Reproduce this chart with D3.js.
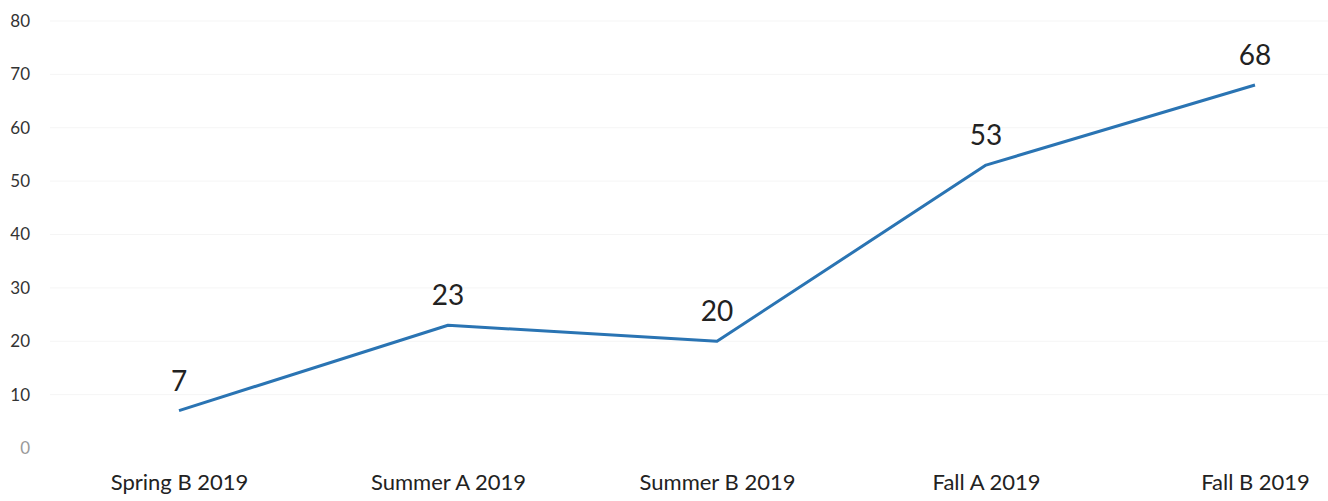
<!DOCTYPE html>
<html><head><meta charset="utf-8">
<script src="https://cdn.jsdelivr.net/npm/d3@7"></script>
<style>
html,body{margin:0;padding:0;background:#fff;}
svg{display:block;}
</style></head>
<body>
<script>
const categories = ["Spring B 2019","Summer A 2019","Summer B 2019","Fall A 2019","Fall B 2019"];
const values = [7, 23, 20, 53, 68];
const yTicks = [0,10,20,30,40,50,60,70,80];

const W = 1328, H = 501;
const svg = d3.select("body").append("svg").attr("width", W).attr("height", H);
const font = "Lato, 'Open Sans', sans-serif";

const x = d3.scalePoint().domain(categories).range([179, 1255]);
const y = d3.scaleLinear().domain([0, 80]).range([448, 21]);

// faint gridlines
svg.append("g").selectAll("line").data(yTicks.slice(1)).join("line")
  .attr("x1", 50).attr("x2", W)
  .attr("y1", d => y(d)).attr("y2", d => y(d))
  .attr("stroke", "#f5f5f5").attr("stroke-width", 1);

// y axis labels
const yAxis = d3.axisLeft(y).tickValues(yTicks).tickSize(0).tickPadding(0);
const gy = svg.append("g").attr("transform", "translate(30,0)").call(yAxis);
gy.select(".domain").remove();
gy.selectAll("text").attr("font-family", font).attr("font-size", 17)
  .attr("fill", d => d === 0 ? "#9a9a9a" : "#333");

// x axis labels
const xAxis = d3.axisBottom(x).tickSize(0).tickPadding(0);
const gx = svg.append("g").attr("transform", "translate(0,474)").call(xAxis);
gx.select(".domain").remove();
gx.selectAll("text").attr("font-family", font).attr("font-size", 22).attr("fill", "#222");

// line
const line = d3.line().x((d, i) => x(categories[i])).y(d => y(d));
svg.append("path").datum(values).attr("d", line)
  .attr("fill", "none").attr("stroke", "#2a74b3").attr("stroke-width", 3)
  .attr("stroke-linejoin", "round");

// data labels
svg.append("g").selectAll("text").data(values).join("text")
  .attr("x", (d, i) => x(categories[i]))
  .attr("y", d => y(d) - 20)
  .attr("text-anchor", "middle")
  .attr("font-family", font).attr("font-size", 28).attr("fill", "#222")
  .text(d => d);
</script>
</body></html>
